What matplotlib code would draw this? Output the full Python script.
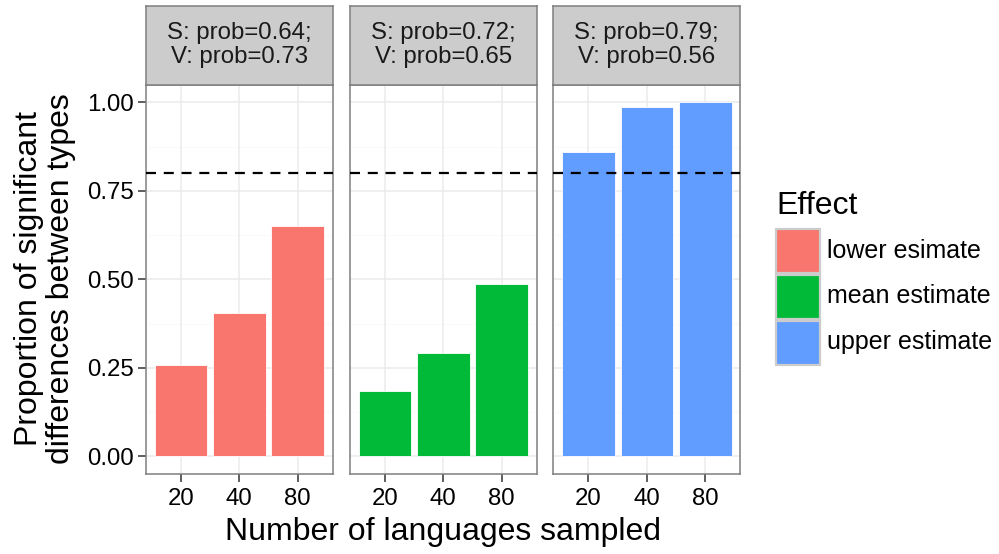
import numpy as np
import matplotlib
matplotlib.use("Agg")
import matplotlib.pyplot as plt
from matplotlib.patches import Rectangle

plt.rcParams['font.family'] = ['Liberation Sans', 'DejaVu Sans']

# data
n_langs = ["20", "40", "80"]
effects = ["lower esimate", "mean estimate", "upper estimate"]
strip_labels = ["S: prob=0.64;\nV: prob=0.73",
                "S: prob=0.72;\nV: prob=0.65",
                "S: prob=0.79;\nV: prob=0.56"]
lower_vals = [0.259, 0.405, 0.652]
mean_vals = [0.184, 0.291, 0.487]
upper_vals = [0.861, 0.987, 1.0]
threshold = 0.8
yticks = [0.0, 0.25, 0.5, 0.75, 1.0]
ytick_labels = ["0.00", "0.25", "0.50", "0.75", "1.00"]

colors = ["#F8766D", "#00BA38", "#619CFF"]
panel_vals = [lower_vals, mean_vals, upper_vals]

W, H = 999, 554
fig = plt.figure(figsize=(W / 100, H / 100), dpi=100)


def px_axes(x0, y0, x1, y1):
    # pixel box, measured from top-left of the image
    return fig.add_axes([x0 / W, 1 - y1 / H, (x1 - x0) / W, (y1 - y0) / H])


panels_x = [(146, 332.7), (350, 536.7), (553.3, 740.3)]
top, bottom, strip_top = 84.7, 474, 5.7

for i, (x0, x1) in enumerate(panels_x):
    ax = px_axes(x0, top, x1, bottom)
    xs = np.arange(1, len(n_langs) + 1)
    ax.set_xlim(0.4, 3.6)
    ax.set_ylim(-0.05, 1.05)

    # grid (theme_bw style)
    for y in [0.125, 0.375, 0.625, 0.875]:
        ax.axhline(y, color="#FAFAFA", lw=0.8, zorder=0)
    for y in yticks:
        ax.axhline(y, color="#EBEBEB", lw=1.1, zorder=0)
    for x in xs:
        ax.axvline(x, color="#EBEBEB", lw=1.1, zorder=0)

    ax.bar(xs, panel_vals[i], width=0.9, color=colors[i], edgecolor="white",
           linewidth=0.6, zorder=2)
    ax.axhline(threshold, color="black", lw=1.6, ls=(0, (4.5, 3.5)), zorder=3)

    ax.set_xticks(xs)
    ax.set_xticklabels(n_langs, fontsize=17.3)
    ax.tick_params(axis="x", length=6, width=1.1, color="#333333", pad=4)
    if i == 0:
        ax.set_yticks(yticks)
        ax.set_yticklabels(ytick_labels, fontsize=17.3)
        ax.tick_params(axis="y", length=6, width=1.1, color="#333333", pad=3)
    else:
        ax.set_yticks([])
    for sp in ax.spines.values():
        sp.set_color("#7F7F7F")
        sp.set_linewidth(1.1)

    # facet strip
    sax = px_axes(x0, strip_top, x1, top)
    sax.set_facecolor("#CCCCCC")
    sax.set_xticks([])
    sax.set_yticks([])
    for sp in sax.spines.values():
        sp.set_color("#7F7F7F")
        sp.set_linewidth(1.1)
    sax.text(0.5, 0.5, strip_labels[i], ha="center", va="center",
             fontsize=17.3, color="#1A1A1A", linespacing=1.15,
             transform=sax.transAxes)

# axis titles
fig.text(443 / W, 1 - 532 / H, "Number of languages sampled", ha="center",
         va="center", fontsize=23)
fig.text(45 / W, 1 - 279 / H, "Proportion of significant\ndifferences between types",
         ha="center", va="center", rotation=90, fontsize=23, linespacing=1.05)

# legend
fig.text(776 / W, 1 - 206 / H, "Effect", ha="left", va="center", fontsize=23)
key_tops = [228.5, 274.5, 320.5]
for lab, col, kt in zip(effects, colors, key_tops):
    fig.add_artist(Rectangle((776 / W, 1 - (kt + 44) / H), 44 / W, 44 / H,
                             transform=fig.transFigure, facecolor=col,
                             edgecolor="#CCCCCC", lw=1.6))
    fig.text(827 / W, 1 - (kt + 22) / H, lab, ha="left", va="center",
             fontsize=18)

fig.savefig("out.png", dpi=100)
